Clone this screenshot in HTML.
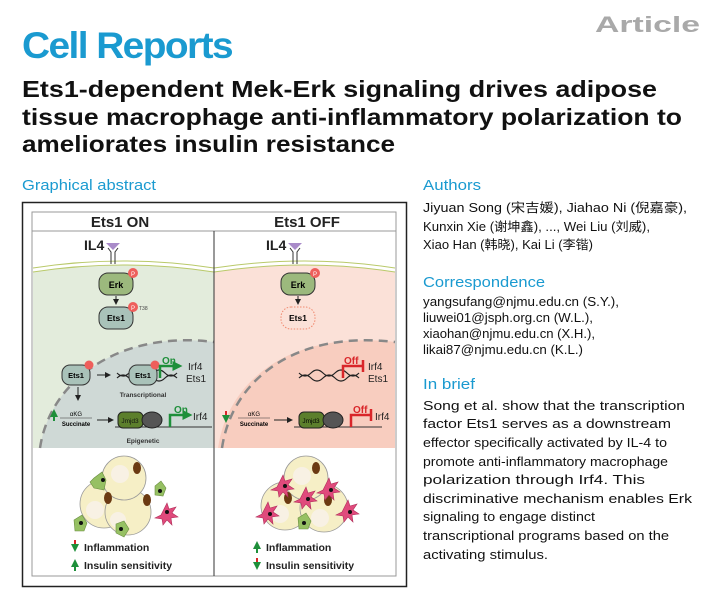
<!DOCTYPE html>
<html><head><meta charset="utf-8"><style>
html,body{margin:0;padding:0;background:#fff;width:705px;height:599px;overflow:hidden}
svg{display:block}
text{font-family:"Liberation Sans","Noto Sans CJK SC",sans-serif}
</style></head><body>
<svg width="705" height="599" viewBox="0 0 705 599" xmlns="http://www.w3.org/2000/svg">
<defs>
<marker id="ah" markerWidth="6" markerHeight="6" refX="5" refY="3" orient="auto"><path d="M0,0L6,3L0,6z" fill="#222"/></marker>
<marker id="ag" markerWidth="4" markerHeight="4" refX="3" refY="2" orient="auto"><path d="M0,0L4,2L0,4z" fill="#1e8f3a"/></marker>
</defs>
<!-- header -->
<text x="22" y="58" font-size="37" font-weight="bold" fill="#1a9ad0" letter-spacing="-1.5" textLength="210" lengthAdjust="spacingAndGlyphs">Cell Reports</text>
<text x="595" y="32" font-size="22" font-weight="bold" fill="#a9a9a9" textLength="105" lengthAdjust="spacingAndGlyphs">Article</text>
<text x="22" y="97" font-size="23" font-weight="bold" fill="#111" textLength="635" lengthAdjust="spacingAndGlyphs">Ets1-dependent Mek-Erk signaling drives adipose</text>
<text x="22" y="125" font-size="23" font-weight="bold" fill="#111" textLength="660" lengthAdjust="spacingAndGlyphs">tissue macrophage anti-inflammatory polarization to</text>
<text x="22" y="152" font-size="23" font-weight="bold" fill="#111" textLength="373" lengthAdjust="spacingAndGlyphs">ameliorates insulin resistance</text>
<text x="22" y="190" font-size="14.5" fill="#1a9ad0" textLength="134" lengthAdjust="spacingAndGlyphs">Graphical abstract</text>
<text x="423" y="190" font-size="15" fill="#1a9ad0" textLength="58" lengthAdjust="spacingAndGlyphs">Authors</text>

<!-- right column -->
<g font-size="12.5" fill="#111">
<text x="423" y="212" textLength="264" lengthAdjust="spacingAndGlyphs">Jiyuan Song (宋吉媛), Jiahao Ni (倪嘉豪),</text>
<text x="423" y="231" textLength="227" lengthAdjust="spacingAndGlyphs">Kunxin Xie (谢坤鑫), ..., Wei Liu (刘威),</text>
<text x="423" y="249" textLength="170" lengthAdjust="spacingAndGlyphs">Xiao Han (韩晓), Kai Li (李锴)</text>
</g>
<text x="423" y="287" font-size="15" fill="#1a9ad0" textLength="122" lengthAdjust="spacingAndGlyphs">Correspondence</text>
<g font-size="12.5" fill="#111">
<text x="423" y="306" textLength="196" lengthAdjust="spacingAndGlyphs">yangsufang@njmu.edu.cn (S.Y.),</text>
<text x="423" y="322" textLength="170" lengthAdjust="spacingAndGlyphs">liuwei01@jsph.org.cn (W.L.),</text>
<text x="423" y="338" textLength="172" lengthAdjust="spacingAndGlyphs">xiaohan@njmu.edu.cn (X.H.),</text>
<text x="423" y="354" textLength="160" lengthAdjust="spacingAndGlyphs">likai87@njmu.edu.cn (K.L.)</text>
</g>
<text x="423" y="389" font-size="15" fill="#1a9ad0" textLength="52" lengthAdjust="spacingAndGlyphs">In brief</text>
<g font-size="13" fill="#111">
<text x="423" y="410" textLength="262" lengthAdjust="spacingAndGlyphs">Song et al. show that the transcription</text>
<text x="423" y="428" textLength="248" lengthAdjust="spacingAndGlyphs">factor Ets1 serves as a downstream</text>
<text x="423" y="447" textLength="244" lengthAdjust="spacingAndGlyphs">effector specifically activated by IL-4 to</text>
<text x="423" y="466" textLength="245" lengthAdjust="spacingAndGlyphs">promote anti-inflammatory macrophage</text>
<text x="423" y="484" textLength="222" lengthAdjust="spacingAndGlyphs">polarization through Irf4. This</text>
<text x="423" y="503" textLength="269" lengthAdjust="spacingAndGlyphs">discriminative mechanism enables Erk</text>
<text x="423" y="521" textLength="172" lengthAdjust="spacingAndGlyphs">signaling to engage distinct</text>
<text x="423" y="540" textLength="246" lengthAdjust="spacingAndGlyphs">transcriptional programs based on the</text>
<text x="423" y="559" textLength="125" lengthAdjust="spacingAndGlyphs">activating stimulus.</text>
</g>

<!-- diagram -->
<rect x="22.5" y="202.5" width="384" height="384" fill="#fff" stroke="#222" stroke-width="1.5"/>
<rect x="32" y="212" width="364" height="19" fill="#fff" stroke="#999" stroke-width="1"/>
<rect x="32" y="231" width="364" height="345" fill="#fff" stroke="#999" stroke-width="1"/>
<text x="120" y="227" font-size="15" font-weight="bold" text-anchor="middle" fill="#222">Ets1 ON</text>
<text x="307" y="227" font-size="15" font-weight="bold" text-anchor="middle" fill="#222">Ets1 OFF</text>
<path d="M33,272 Q123,258 214,272 L214,448 L33,448Z" fill="#e3ecdc"/>
<path d="M214,272 Q305,258 395,272 L395,448 L214,448Z" fill="#fbe1d8"/>
<path d="M40,448 C50,380 120,330 214,342 L214,448Z" fill="#cfd9d6"/>
<path d="M218,448 C228,380 290,330 395,342 L395,448Z" fill="#f8cdbf"/>
<path d="M40,448 C50,380 120,330 214,342" fill="none" stroke="#888" stroke-width="2.5" stroke-dasharray="9,6"/>
<path d="M222,448 C232,380 295,330 395,342" fill="none" stroke="#888" stroke-width="2.5" stroke-dasharray="9,6"/>
<path d="M33,268 Q123,254 214,268 Q305,254 395,268" fill="none" stroke="#b9c96a" stroke-width="1"/>
<path d="M33,272 Q123,258 214,272 Q305,258 395,272" fill="none" stroke="#b9c96a" stroke-width="1"/>
<line x1="214" y1="231" x2="214" y2="576" stroke="#333" stroke-width="1"/>
<g font-weight="bold" fill="#222" font-size="14">
<text x="84" y="250">IL4</text><text x="266" y="250">IL4</text></g>
<g fill="#a98bc9"><path d="M106,243h14l-7,7z"/><path d="M288,243h14l-7,7z"/></g>
<g stroke="#333" stroke-width="1" fill="none">
<path d="M108,248l3,4v12M118,248l-3,4v12"/><path d="M290,248l3,4v12M300,248l-3,4v12"/></g>
<rect x="99" y="273" width="34" height="22" rx="9" fill="#9cb97d" stroke="#333"/>
<text x="116" y="288" font-size="9" font-weight="bold" text-anchor="middle">Erk</text>
<circle cx="133" cy="273" r="5" fill="#ee5f5b"/><text x="133" y="276" font-size="6" fill="#fff" text-anchor="middle">P</text>
<rect x="281" y="273" width="34" height="22" rx="9" fill="#9cb97d" stroke="#333"/>
<text x="298" y="288" font-size="9" font-weight="bold" text-anchor="middle">Erk</text>
<circle cx="315" cy="273" r="5" fill="#ee5f5b"/><text x="315" y="276" font-size="6" fill="#fff" text-anchor="middle">P</text>
<line x1="116" y1="296" x2="116" y2="304" stroke="#222" marker-end="url(#ah)"/>
<line x1="298" y1="296" x2="298" y2="304" stroke="#222" marker-end="url(#ah)"/>
<rect x="99" y="307" width="34" height="22" rx="9" fill="#a9c2b9" stroke="#333"/>
<text x="116" y="321" font-size="8.5" font-weight="bold" text-anchor="middle">Ets1</text>
<circle cx="133" cy="307" r="5" fill="#ee5f5b"/><text x="133" y="310" font-size="6" fill="#fff" text-anchor="middle">P</text>
<text x="139" y="310" font-size="5" fill="#444">T38</text>
<rect x="281" y="307" width="34" height="22" rx="10" fill="none" stroke="#f08a70" stroke-dasharray="1.5,1.5"/>
<text x="298" y="321" font-size="8.5" font-weight="bold" text-anchor="middle">Ets1</text>
<rect x="62" y="365" width="28" height="20" rx="8" fill="#a9c2b9" stroke="#333"/>
<text x="76" y="378" font-size="7.5" font-weight="bold" text-anchor="middle">Ets1</text>
<circle cx="89" cy="365" r="4.5" fill="#ee5f5b"/>
<line x1="97" y1="375" x2="110" y2="375" stroke="#222" marker-end="url(#ah)"/>
<line x1="78" y1="387" x2="78" y2="400" stroke="#222" marker-end="url(#ah)"/>
<path d="M117,378 q6,-6 12,0 t12,0 t12,0 t12,0 t12,0 M117,373 q6,6 12,0 t12,0 t12,0 t12,0 t12,0" fill="none" stroke="#222" stroke-width="1.2"/>
<rect x="129" y="365" width="28" height="20" rx="8" fill="#a9c2b9" stroke="#333"/>
<text x="143" y="378" font-size="7.5" font-weight="bold" text-anchor="middle">Ets1</text>
<circle cx="155" cy="365" r="4.5" fill="#ee5f5b"/>
<path d="M160,378 v-12 h20" fill="none" stroke="#1e8f3a" stroke-width="2.5" marker-end="url(#ag)"/>
<text x="162" y="364" font-size="10" font-weight="bold" fill="#1e8f3a">On</text>
<text x="188" y="370" font-size="10" fill="#222">Irf4</text>
<text x="186" y="382" font-size="10" fill="#222">Ets1</text>
<text x="143" y="397" font-size="6.5" font-weight="bold" text-anchor="middle" fill="#333">Transcriptional</text>
<path d="M54,421 v-10" stroke="#1e8f3a" stroke-width="2" marker-end="url(#ag)"/>
<text x="76" y="416" font-size="6" text-anchor="middle">αKG</text>
<line x1="60" y1="418" x2="92" y2="418" stroke="#333" stroke-width=".6"/>
<text x="76" y="426" font-size="6" font-weight="bold" text-anchor="middle">Succinate</text>
<line x1="97" y1="420" x2="113" y2="420" stroke="#222" marker-end="url(#ah)"/>
<line x1="115" y1="427" x2="212" y2="427" stroke="#333"/>
<rect x="118" y="412" width="25" height="16" rx="5" fill="#5c7f2c" stroke="#222"/>
<text x="130" y="423" font-size="6.5" text-anchor="middle" fill="#111">Jmjd3</text>
<ellipse cx="152" cy="420" rx="10" ry="8" fill="#555" stroke="#222"/>
<path d="M170,427 v-12 h20" fill="none" stroke="#1e8f3a" stroke-width="2.5" marker-end="url(#ag)"/>
<text x="174" y="413" font-size="10" font-weight="bold" fill="#1e8f3a">On</text>
<text x="193" y="420" font-size="10" fill="#222">Irf4</text>
<text x="143" y="443" font-size="6.5" font-weight="bold" text-anchor="middle" fill="#333">Epigenetic</text>
<path d="M299,378 q6,-6 12,0 t12,0 t12,0 t12,0 t12,0 M299,373 q6,6 12,0 t12,0 t12,0 t12,0 t12,0" fill="none" stroke="#222" stroke-width="1.2"/>
<path d="M343,378 v-12 h20 M363,360 v12" fill="none" stroke="#d9262a" stroke-width="2.5"/>
<text x="344" y="364" font-size="10" font-weight="bold" fill="#d9262a">Off</text>
<text x="368" y="370" font-size="10" fill="#222">Irf4</text>
<text x="368" y="382" font-size="10" fill="#222">Ets1</text>
<path d="M226,411 v10" stroke="#d9262a" stroke-width="2" marker-end="url(#ag)"/>
<text x="254" y="416" font-size="6" text-anchor="middle">αKG</text>
<line x1="238" y1="418" x2="270" y2="418" stroke="#333" stroke-width=".6"/>
<text x="254" y="426" font-size="6" font-weight="bold" text-anchor="middle">Succinate</text>
<line x1="274" y1="420" x2="292" y2="420" stroke="#222" marker-end="url(#ah)"/>
<line x1="294" y1="427" x2="382" y2="427" stroke="#333"/>
<rect x="299" y="412" width="25" height="16" rx="5" fill="#5c7f2c" stroke="#222"/>
<text x="311" y="423" font-size="6.5" text-anchor="middle">Jmjd3</text>
<ellipse cx="333" cy="420" rx="10" ry="8" fill="#555" stroke="#222"/>
<path d="M351,427 v-12 h20 M371,409 v12" fill="none" stroke="#d9262a" stroke-width="2.5"/>
<text x="353" y="413" font-size="10" font-weight="bold" fill="#d9262a">Off</text>
<text x="375" y="420" font-size="10" fill="#222">Irf4</text>
<g stroke="#999" stroke-width=".8" fill="#f6efc6">
<circle cx="104" cy="504" r="24"/><circle cx="128" cy="512" r="23"/><circle cx="124" cy="478" r="22"/></g>
<g fill="#f8f1e4"><circle cx="95" cy="510" r="9"/><circle cx="118" cy="520" r="8"/><circle cx="120" cy="474" r="9"/></g>
<g fill="#6b3a12"><ellipse cx="137" cy="468" rx="4" ry="6"/><ellipse cx="108" cy="498" rx="4" ry="6"/><ellipse cx="147" cy="500" rx="4" ry="6"/></g>
<g fill="#96c063" stroke="#6a8e40" stroke-width=".6">
<path d="M94,478l8,-6l4,8l-2,10l-10,-2l-4,-6z"/><path d="M155,486l6,-5l5,7l-3,8l-8,-1z"/>
<path d="M74,520l8,-5l5,8l-3,8l-9,0z"/><path d="M116,524l8,-3l5,8l-5,8l-8,-4z"/></g>
<path d="M163,511l4,-8l2,6l7,-2l-4,6l6,4l-7,1l1,7l-5,-5l-4,5l-1,-6l-7,-1l6,-3z" fill="#e04a7c" stroke="#b02f5a" stroke-width=".6"/>
<g fill="#111"><circle cx="103" cy="480" r="2"/><circle cx="160" cy="491" r="2"/><circle cx="81" cy="523" r="2"/><circle cx="121" cy="529" r="2"/><circle cx="167" cy="512" r="2"/></g>
<g stroke="#999" stroke-width=".8" fill="#f6efc6">
<circle cx="285" cy="506" r="24"/><circle cx="324" cy="508" r="24"/><circle cx="306" cy="478" r="22"/></g>
<g fill="#f8f1e4"><circle cx="280" cy="514" r="9"/><circle cx="320" cy="518" r="9"/><circle cx="302" cy="476" r="9"/></g>
<g fill="#6b3a12"><ellipse cx="316" cy="468" rx="4" ry="6"/><ellipse cx="288" cy="498" rx="4" ry="6"/><ellipse cx="328" cy="500" rx="4" ry="6"/></g>
<path d="M298,518l8,-5l5,8l-3,8l-9,0z" fill="#96c063" stroke="#6a8e40" stroke-width=".6"/>
<g fill="#e04a7c" stroke="#b02f5a" stroke-width=".6">
<path d="M279,483l4,-8l2,6l7,-2l-4,6l6,4l-7,1l1,7l-5,-5l-4,5l-1,-6l-7,-1l6,-3z"/>
<path d="M302,495l4,-8l2,6l7,-2l-4,6l6,4l-7,1l1,7l-5,-5l-4,5l-1,-6l-7,-1l6,-3z"/>
<path d="M325,486l4,-8l2,6l7,-2l-4,6l6,4l-7,1l1,7l-5,-5l-4,5l-1,-6l-7,-1l6,-3z"/>
<path d="M264,510l4,-8l2,6l7,-2l-4,6l6,4l-7,1l1,7l-5,-5l-4,5l-1,-6l-7,-1l6,-3z"/>
<path d="M344,508l4,-8l2,6l7,-2l-4,6l6,4l-7,1l1,7l-5,-5l-4,5l-1,-6l-7,-1l6,-3z"/></g>
<g fill="#111"><circle cx="285" cy="486" r="2"/><circle cx="308" cy="499" r="2"/><circle cx="331" cy="490" r="2"/><circle cx="270" cy="514" r="2"/><circle cx="350" cy="512" r="2"/><circle cx="304" cy="523" r="2"/></g>
<g font-size="10.5" font-weight="bold" fill="#222">
<text x="84" y="551">Inflammation</text><text x="84" y="569">Insulin sensitivity</text>
<text x="266" y="551">Inflammation</text><text x="266" y="569">Insulin sensitivity</text></g>
<path d="M75,540v10" stroke="#d9262a" stroke-width="2" marker-end="url(#ag)"/>
<path d="M75,571v-10" stroke="#1e8f3a" stroke-width="2" marker-end="url(#ag)"/>
<path d="M257,553v-10" stroke="#1e8f3a" stroke-width="2" marker-end="url(#ag)"/>
<path d="M257,558v10" stroke="#d9262a" stroke-width="2" marker-end="url(#ag)"/>
</svg>
</body></html>
